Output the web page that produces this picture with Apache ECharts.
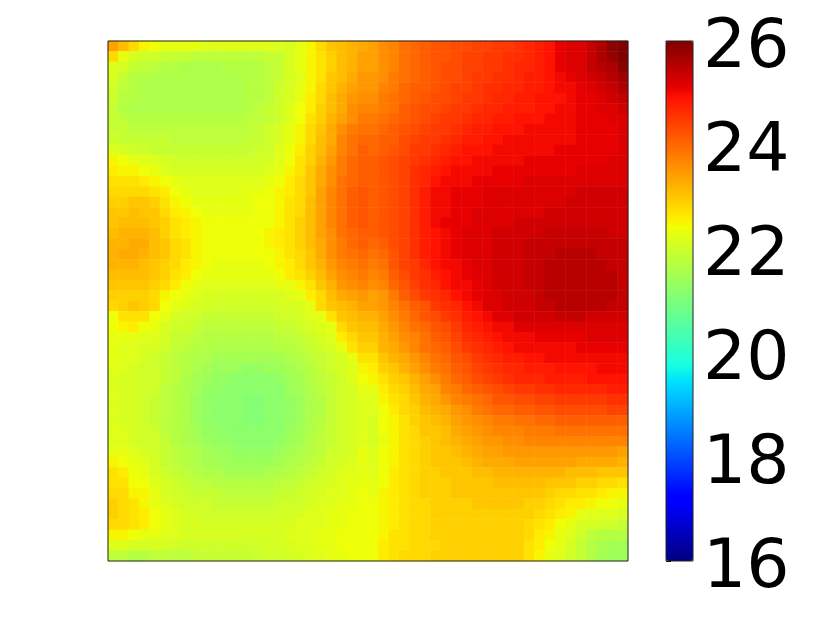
<!DOCTYPE html>
<html lang="en">
<head>
<meta charset="UTF-8" />
<title>Heatmap</title>
<style type="text/css">
  html,body{margin:0;padding:0;background:#fff;}
  #chart{width:822px;height:617px;}
</style>
</head>
<body>
<div id="chart"></div>
<script src="https://cdn.jsdelivr.net/npm/echarts@6/dist/echarts.min.js"></script>
<script type="text/javascript">
// values, one list per row, top row first
var gridValues = [
[23.4,23.1,22.8,22.5,22.4,22.3,22.3,22.3,22.3,22.2,22.2,22.2,22.2,22.2,22.2,22.2,22.2,22.1,22.3,22.5,22.8,23.0,23.1,23.2,23.3,23.4,23.6,23.7,23.9,24.0,24.1,24.2,24.2,24.3,24.3,24.4,24.4,24.5,24.5,24.6,24.7,24.8,24.9,25.1,25.2,25.2,25.4,25.6,25.9,26.0],
[22.8,22.3,22.1,22.0,22.0,21.9,21.9,21.9,21.8,21.8,21.8,21.8,21.8,21.8,21.8,21.9,21.9,22.1,22.3,22.5,22.7,22.9,23.1,23.2,23.4,23.4,23.6,23.7,23.9,24.0,24.1,24.2,24.2,24.3,24.4,24.4,24.5,24.5,24.6,24.6,24.7,24.8,24.9,25.1,25.2,25.2,25.4,25.6,25.8,26.0],
[22.2,22.1,21.9,21.8,21.8,21.7,21.7,21.6,21.6,21.6,21.6,21.7,21.7,21.7,21.7,21.8,21.9,22.1,22.3,22.5,22.7,22.9,23.1,23.2,23.4,23.4,23.6,23.7,23.9,24.0,24.1,24.2,24.3,24.3,24.4,24.4,24.5,24.5,24.6,24.7,24.7,24.8,24.9,25.1,25.2,25.2,25.4,25.5,25.6,25.9],
[22.1,21.9,21.7,21.7,21.6,21.6,21.6,21.6,21.6,21.6,21.6,21.6,21.6,21.7,21.7,21.8,21.9,22.1,22.2,22.5,22.7,23.0,23.1,23.3,23.5,23.5,23.6,23.8,23.9,24.0,24.1,24.2,24.3,24.3,24.4,24.5,24.5,24.6,24.6,24.7,24.8,24.8,24.9,25.0,25.1,25.2,25.3,25.4,25.5,25.7],
[22.0,21.8,21.7,21.6,21.6,21.6,21.6,21.6,21.6,21.6,21.6,21.6,21.6,21.7,21.7,21.8,22.0,22.1,22.3,22.5,22.8,23.0,23.2,23.4,23.5,23.5,23.7,23.8,24.0,24.1,24.1,24.2,24.3,24.4,24.4,24.5,24.6,24.6,24.7,24.7,24.8,24.8,24.9,25.0,25.0,25.1,25.2,25.3,25.4,25.6],
[22.0,21.7,21.7,21.6,21.6,21.6,21.6,21.6,21.6,21.6,21.6,21.6,21.6,21.7,21.7,21.8,22.0,22.1,22.3,22.6,22.8,23.1,23.3,23.5,23.6,23.6,23.8,23.9,24.0,24.1,24.2,24.3,24.3,24.4,24.5,24.5,24.6,24.7,24.7,24.8,24.8,24.9,24.9,24.9,25.0,25.1,25.1,25.2,25.3,25.4],
[21.9,21.7,21.6,21.6,21.6,21.6,21.6,21.6,21.6,21.6,21.6,21.6,21.6,21.7,21.8,21.9,22.0,22.2,22.4,22.6,22.9,23.1,23.3,23.6,23.7,23.7,23.8,23.9,24.1,24.2,24.3,24.3,24.4,24.5,24.5,24.6,24.7,24.7,24.8,24.8,24.8,24.9,24.9,25.0,25.0,25.1,25.1,25.2,25.2,25.3],
[21.9,21.8,21.7,21.7,21.7,21.7,21.7,21.7,21.7,21.7,21.7,21.7,21.7,21.8,21.8,21.9,22.0,22.2,22.4,22.7,22.9,23.2,23.4,23.6,23.8,23.8,23.9,24.0,24.1,24.2,24.3,24.4,24.5,24.5,24.6,24.7,24.7,24.8,24.8,24.9,24.9,24.9,25.0,25.0,25.0,25.1,25.1,25.1,25.2,25.2],
[21.9,21.9,21.8,21.8,21.8,21.8,21.8,21.8,21.8,21.8,21.8,21.8,21.8,21.8,21.9,22.0,22.1,22.3,22.5,22.8,23.0,23.3,23.6,23.8,23.9,23.9,24.0,24.1,24.2,24.3,24.4,24.5,24.5,24.6,24.7,24.8,24.8,24.9,24.9,24.9,25.0,25.0,25.0,25.0,25.0,25.1,25.1,25.1,25.1,25.2],
[22.0,21.9,21.9,21.9,21.9,21.9,21.8,21.8,21.8,21.8,21.8,21.8,21.8,21.9,21.9,22.0,22.1,22.3,22.5,22.8,23.1,23.3,23.7,23.9,24.0,24.0,24.1,24.1,24.3,24.4,24.5,24.5,24.6,24.7,24.8,24.8,24.9,24.9,25.0,25.0,25.0,25.0,25.0,25.0,25.0,25.1,25.1,25.1,25.1,25.2],
[22.2,22.1,22.0,22.0,21.9,21.9,21.9,21.9,21.9,21.9,21.9,21.9,21.9,21.9,22.0,22.0,22.2,22.4,22.6,22.9,23.1,23.4,23.7,23.9,24.1,24.0,24.1,24.2,24.3,24.5,24.5,24.6,24.7,24.8,24.9,24.9,24.9,25.0,25.0,25.0,25.0,25.0,25.0,25.1,25.1,25.1,25.1,25.1,25.1,25.2],
[22.5,22.4,22.3,22.2,22.2,22.1,22.0,22.0,22.0,22.0,22.0,22.0,22.0,22.0,22.0,22.1,22.2,22.4,22.7,22.9,23.2,23.5,23.8,24.0,24.1,24.1,24.2,24.3,24.4,24.5,24.6,24.7,24.8,24.9,24.9,25.0,25.0,25.0,25.0,25.0,25.1,25.1,25.1,25.1,25.1,25.1,25.1,25.1,25.2,25.2],
[22.6,22.5,22.5,22.4,22.3,22.2,22.1,22.1,22.1,22.1,22.1,22.1,22.1,22.1,22.1,22.2,22.3,22.5,22.7,23.0,23.3,23.6,23.8,24.0,24.1,24.1,24.2,24.3,24.4,24.6,24.7,24.8,24.9,25.0,25.0,25.0,25.0,25.1,25.1,25.1,25.1,25.1,25.1,25.1,25.1,25.2,25.2,25.2,25.2,25.2],
[22.7,22.7,22.7,22.6,22.5,22.4,22.3,22.2,22.2,22.2,22.2,22.2,22.2,22.2,22.2,22.3,22.4,22.6,22.8,23.0,23.3,23.6,23.9,24.0,24.1,24.1,24.2,24.3,24.4,24.6,24.7,24.9,25.0,25.0,25.0,25.1,25.1,25.1,25.1,25.1,25.2,25.2,25.2,25.2,25.2,25.2,25.2,25.2,25.2,25.2],
[22.8,22.8,22.8,22.8,22.7,22.6,22.4,22.3,22.2,22.2,22.2,22.2,22.2,22.3,22.3,22.4,22.5,22.6,22.8,23.0,23.4,23.7,23.9,24.1,24.2,24.1,24.2,24.3,24.4,24.6,24.8,25.0,25.0,25.1,25.1,25.1,25.2,25.2,25.2,25.2,25.2,25.2,25.2,25.2,25.2,25.3,25.3,25.3,25.3,25.3],
[22.9,22.9,23.0,23.0,22.9,22.7,22.5,22.4,22.3,22.3,22.3,22.3,22.3,22.3,22.4,22.4,22.5,22.7,22.8,23.1,23.4,23.7,23.9,24.1,24.2,24.1,24.2,24.3,24.4,24.6,24.8,25.0,25.0,25.1,25.1,25.1,25.2,25.2,25.2,25.2,25.2,25.2,25.2,25.2,25.3,25.3,25.3,25.3,25.3,25.3],
[23.0,23.0,23.1,23.0,23.0,22.8,22.6,22.5,22.4,22.3,22.3,22.3,22.3,22.3,22.4,22.4,22.5,22.7,22.8,23.1,23.4,23.7,23.9,24.1,24.2,24.1,24.2,24.3,24.4,24.6,24.8,25.0,25.0,25.1,25.1,25.2,25.2,25.2,25.2,25.2,25.2,25.2,25.3,25.3,25.3,25.3,25.3,25.3,25.3,25.3],
[23.0,23.1,23.1,23.1,23.0,22.9,22.7,22.6,22.5,22.4,22.4,22.4,22.4,22.4,22.4,22.4,22.5,22.7,22.9,23.1,23.4,23.7,23.9,24.1,24.2,24.1,24.2,24.3,24.4,24.6,24.8,25.0,25.1,25.1,25.1,25.2,25.2,25.2,25.2,25.3,25.3,25.3,25.3,25.3,25.3,25.3,25.3,25.3,25.3,25.3],
[23.1,23.2,23.2,23.2,23.1,22.9,22.7,22.6,22.5,22.4,22.4,22.4,22.4,22.4,22.4,22.5,22.6,22.7,22.9,23.1,23.4,23.6,23.9,24.0,24.1,24.1,24.2,24.3,24.4,24.6,24.8,24.9,25.0,25.1,25.2,25.2,25.2,25.3,25.3,25.3,25.3,25.3,25.4,25.4,25.4,25.4,25.4,25.4,25.3,25.3],
[23.2,23.2,23.3,23.3,23.1,23.0,22.8,22.7,22.5,22.4,22.4,22.4,22.4,22.4,22.4,22.5,22.6,22.7,22.9,23.1,23.3,23.6,23.8,24.0,24.1,24.0,24.1,24.3,24.4,24.6,24.8,24.9,25.0,25.1,25.2,25.2,25.2,25.3,25.3,25.3,25.4,25.4,25.4,25.4,25.4,25.4,25.4,25.4,25.4,25.4],
[23.2,23.3,23.3,23.2,23.1,23.0,22.8,22.7,22.5,22.4,22.4,22.4,22.4,22.4,22.4,22.4,22.5,22.7,22.8,23.0,23.3,23.6,23.8,23.9,24.0,23.9,24.0,24.2,24.4,24.6,24.8,24.9,25.0,25.1,25.2,25.2,25.2,25.3,25.3,25.3,25.4,25.4,25.4,25.5,25.5,25.5,25.5,25.4,25.4,25.4],
[23.2,23.2,23.2,23.1,23.0,22.9,22.8,22.6,22.5,22.4,22.3,22.3,22.3,22.3,22.3,22.4,22.5,22.6,22.8,23.0,23.2,23.5,23.7,23.8,23.9,23.8,23.9,24.2,24.4,24.5,24.7,24.9,25.0,25.0,25.1,25.2,25.2,25.3,25.3,25.3,25.4,25.4,25.5,25.5,25.5,25.5,25.5,25.5,25.4,25.4],
[23.1,23.1,23.1,23.1,23.0,22.9,22.7,22.6,22.4,22.3,22.3,22.3,22.3,22.3,22.3,22.3,22.4,22.6,22.7,22.9,23.1,23.4,23.6,23.7,23.8,23.7,23.8,24.1,24.3,24.5,24.6,24.8,24.9,25.0,25.1,25.2,25.2,25.3,25.3,25.3,25.4,25.4,25.5,25.5,25.5,25.5,25.5,25.5,25.5,25.4],
[23.0,23.0,23.0,23.0,22.9,22.8,22.6,22.4,22.3,22.2,22.2,22.2,22.2,22.2,22.2,22.2,22.3,22.3,22.5,22.7,23.0,23.2,23.5,23.6,23.7,23.6,23.7,24.0,24.2,24.4,24.6,24.7,24.9,25.0,25.0,25.1,25.2,25.3,25.3,25.3,25.4,25.4,25.5,25.5,25.5,25.5,25.5,25.5,25.5,25.4],
[22.9,22.9,22.9,22.9,22.8,22.5,22.4,22.3,22.2,22.1,22.1,22.1,22.1,22.1,22.1,22.1,22.1,22.2,22.3,22.6,22.8,23.1,23.3,23.4,23.5,23.4,23.5,23.8,24.1,24.3,24.5,24.6,24.7,24.9,25.0,25.1,25.2,25.2,25.3,25.3,25.3,25.4,25.5,25.5,25.5,25.5,25.5,25.5,25.5,25.4],
[22.8,22.9,23.0,22.9,22.8,22.4,22.3,22.2,22.1,22.1,22.0,22.0,22.0,22.0,22.0,22.0,22.1,22.1,22.1,22.3,22.8,23.0,23.1,23.2,23.4,23.4,23.5,23.7,23.9,24.1,24.2,24.5,24.6,24.7,24.9,25.0,25.2,25.2,25.3,25.3,25.3,25.4,25.4,25.5,25.5,25.5,25.5,25.5,25.4,25.4],
[22.4,22.7,22.7,22.7,22.4,22.3,22.1,22.0,22.0,21.9,21.9,21.9,21.9,21.9,21.9,21.9,22.0,22.0,22.1,22.2,22.3,22.7,23.0,23.1,23.2,23.2,23.4,23.6,23.8,24.0,24.2,24.3,24.5,24.6,24.8,24.9,25.0,25.2,25.2,25.3,25.3,25.3,25.3,25.4,25.4,25.4,25.3,25.3,25.3,25.3],
[22.4,22.5,22.6,22.4,22.3,22.1,22.0,22.0,21.9,21.8,21.8,21.8,21.8,21.8,21.8,21.8,21.9,21.9,22.0,22.1,22.2,22.3,22.8,23.0,23.1,23.1,23.3,23.5,23.7,23.9,24.0,24.2,24.3,24.5,24.7,24.8,24.9,25.0,25.0,25.2,25.2,25.2,25.2,25.2,25.2,25.2,25.2,25.2,25.2,25.2],
[22.3,22.3,22.3,22.2,22.2,22.1,21.9,21.9,21.8,21.7,21.7,21.7,21.7,21.7,21.7,21.7,21.8,21.8,21.9,22.0,22.1,22.2,22.6,22.8,23.0,23.0,23.2,23.4,23.6,23.7,23.9,24.1,24.2,24.4,24.6,24.7,24.8,24.9,25.0,25.0,25.0,25.1,25.1,25.1,25.1,25.1,25.2,25.2,25.2,25.2],
[22.3,22.2,22.2,22.1,22.1,22.0,21.9,21.8,21.7,21.7,21.6,21.6,21.6,21.6,21.6,21.6,21.7,21.7,21.8,21.9,22.0,22.1,22.3,22.7,22.9,22.9,23.2,23.3,23.5,23.7,23.9,24.0,24.1,24.3,24.5,24.6,24.7,24.8,24.9,25.0,25.0,25.0,25.0,25.0,25.0,25.1,25.1,25.1,25.1,25.1],
[22.3,22.2,22.2,22.1,22.0,21.9,21.8,21.7,21.6,21.6,21.5,21.5,21.5,21.5,21.5,21.5,21.5,21.6,21.7,21.8,21.9,22.0,22.1,22.3,22.7,22.7,23.0,23.2,23.3,23.5,23.7,23.9,24.0,24.2,24.3,24.5,24.6,24.7,24.8,24.8,24.9,24.9,25.0,25.0,25.0,25.0,25.0,25.0,25.0,25.0],
[22.2,22.2,22.1,22.0,22.0,21.9,21.8,21.7,21.6,21.5,21.4,21.4,21.4,21.3,21.3,21.4,21.4,21.5,21.6,21.7,21.9,22.0,22.1,22.2,22.5,22.6,22.9,23.0,23.2,23.4,23.6,23.8,23.9,24.1,24.2,24.4,24.5,24.6,24.7,24.7,24.8,24.8,24.8,24.9,24.9,24.9,24.9,25.0,25.0,25.0],
[22.2,22.1,22.1,22.0,22.0,21.9,21.8,21.6,21.5,21.4,21.3,21.3,21.2,21.2,21.2,21.2,21.3,21.4,21.5,21.7,21.8,21.9,22.0,22.2,22.4,22.5,22.7,22.9,23.0,23.2,23.4,23.6,23.8,24.0,24.1,24.3,24.4,24.5,24.6,24.7,24.7,24.7,24.8,24.8,24.8,24.8,24.9,24.9,24.9,24.9],
[22.2,22.1,22.1,22.0,22.0,21.8,21.7,21.6,21.5,21.3,21.3,21.2,21.2,21.2,21.2,21.2,21.2,21.4,21.5,21.6,21.8,21.9,22.0,22.1,22.3,22.3,22.6,22.8,22.9,23.1,23.3,23.4,23.7,23.8,24.0,24.1,24.2,24.3,24.4,24.5,24.5,24.6,24.6,24.7,24.7,24.7,24.7,24.7,24.8,24.8],
[22.2,22.1,22.1,22.0,21.9,21.8,21.7,21.6,21.4,21.3,21.2,21.2,21.2,21.1,21.1,21.2,21.2,21.3,21.4,21.6,21.7,21.9,22.0,22.1,22.2,22.2,22.5,22.7,22.8,23.0,23.2,23.3,23.5,23.7,23.8,23.9,24.0,24.2,24.2,24.3,24.3,24.4,24.4,24.5,24.5,24.5,24.5,24.5,24.6,24.6],
[22.2,22.1,22.1,22.0,21.9,21.8,21.7,21.6,21.4,21.3,21.2,21.2,21.2,21.1,21.1,21.2,21.2,21.3,21.4,21.6,21.7,21.9,22.0,22.1,22.2,22.2,22.4,22.6,22.8,22.9,23.1,23.2,23.3,23.5,23.6,23.8,23.9,24.0,24.0,24.1,24.1,24.2,24.2,24.3,24.3,24.3,24.3,24.3,24.4,24.4],
[22.2,22.1,22.1,22.0,21.9,21.8,21.7,21.6,21.4,21.3,21.2,21.2,21.2,21.1,21.1,21.2,21.2,21.3,21.4,21.6,21.7,21.9,22.0,22.1,22.2,22.1,22.4,22.5,22.7,22.9,23.0,23.1,23.2,23.4,23.5,23.6,23.7,23.8,23.8,23.9,23.9,24.0,24.0,24.1,24.1,24.1,24.1,24.1,24.1,24.1],
[22.2,22.2,22.1,22.0,22.0,21.8,21.7,21.6,21.5,21.3,21.3,21.2,21.2,21.2,21.2,21.2,21.2,21.4,21.5,21.6,21.8,21.9,22.0,22.1,22.2,22.1,22.4,22.5,22.7,22.8,23.0,23.0,23.1,23.3,23.4,23.5,23.6,23.7,23.7,23.7,23.8,23.8,23.8,23.9,23.9,23.9,23.9,23.9,23.9,23.9],
[22.2,22.2,22.1,22.0,22.0,21.9,21.7,21.6,21.5,21.4,21.3,21.3,21.2,21.2,21.2,21.2,21.3,21.4,21.5,21.7,21.8,21.9,22.0,22.1,22.2,22.1,22.3,22.5,22.7,22.8,22.9,23.0,23.1,23.2,23.3,23.4,23.5,23.5,23.6,23.6,23.7,23.7,23.7,23.7,23.7,23.7,23.7,23.7,23.7,23.7],
[22.3,22.3,22.2,22.1,22.0,21.9,21.8,21.7,21.6,21.5,21.4,21.4,21.3,21.3,21.3,21.3,21.4,21.5,21.6,21.7,21.8,22.0,22.0,22.1,22.3,22.2,22.4,22.5,22.7,22.8,22.9,23.0,23.0,23.1,23.2,23.3,23.4,23.4,23.5,23.5,23.5,23.5,23.5,23.5,23.5,23.5,23.5,23.5,23.5,23.4],
[22.5,22.4,22.3,22.2,22.1,21.9,21.8,21.7,21.6,21.5,21.5,21.4,21.4,21.4,21.4,21.4,21.5,21.6,21.7,21.8,21.9,22.0,22.1,22.2,22.3,22.2,22.4,22.5,22.7,22.8,22.9,23.0,23.0,23.0,23.1,23.2,23.3,23.3,23.3,23.4,23.4,23.4,23.4,23.4,23.4,23.3,23.3,23.3,23.3,23.2],
[22.7,22.6,22.4,22.3,22.1,22.0,21.9,21.8,21.7,21.6,21.6,21.5,21.5,21.5,21.5,21.6,21.6,21.7,21.8,21.9,22.0,22.1,22.2,22.2,22.3,22.2,22.4,22.6,22.7,22.8,22.9,22.9,23.0,23.0,23.0,23.1,23.1,23.2,23.2,23.2,23.2,23.2,23.2,23.2,23.1,23.1,23.1,23.0,23.0,23.0],
[22.7,22.7,22.4,22.4,22.2,22.1,22.0,21.9,21.8,21.8,21.7,21.7,21.7,21.7,21.7,21.7,21.8,21.8,21.9,22.0,22.1,22.1,22.2,22.3,22.3,22.3,22.4,22.6,22.7,22.8,22.9,22.9,22.9,23.0,23.0,23.0,23.0,23.1,23.1,23.1,23.1,23.1,23.0,23.0,23.0,22.9,22.9,22.8,22.8,22.7],
[22.8,22.8,22.5,22.5,22.3,22.1,22.0,22.0,21.9,21.9,21.9,21.8,21.8,21.8,21.8,21.8,21.9,21.9,22.0,22.1,22.1,22.2,22.2,22.3,22.4,22.3,22.5,22.6,22.7,22.8,22.9,22.9,22.9,23.0,23.0,23.0,23.0,23.0,23.0,23.0,23.0,23.0,22.9,22.8,22.8,22.7,22.7,22.6,22.5,22.5],
[22.9,22.8,22.7,22.5,22.3,22.2,22.1,22.0,22.0,22.0,21.9,21.9,21.9,21.9,21.9,21.9,22.0,22.0,22.0,22.1,22.2,22.2,22.3,22.3,22.4,22.4,22.5,22.6,22.7,22.8,22.8,22.9,22.9,22.9,22.9,23.0,23.0,23.0,23.0,23.0,22.9,22.9,22.8,22.7,22.6,22.6,22.5,22.4,22.4,22.3],
[22.9,22.8,22.7,22.6,22.4,22.3,22.2,22.1,22.1,22.0,22.0,22.0,22.0,22.0,22.0,22.0,22.0,22.1,22.1,22.2,22.2,22.3,22.3,22.4,22.4,22.4,22.5,22.6,22.7,22.8,22.8,22.9,22.9,22.9,22.9,22.9,22.9,22.9,22.9,22.9,22.9,22.8,22.7,22.6,22.5,22.3,22.2,22.2,22.2,22.1],
[22.8,22.8,22.7,22.6,22.4,22.3,22.2,22.1,22.1,22.1,22.1,22.1,22.1,22.1,22.1,22.1,22.1,22.1,22.2,22.2,22.2,22.3,22.3,22.4,22.4,22.4,22.5,22.6,22.7,22.8,22.8,22.9,22.9,22.9,22.9,22.9,22.9,22.9,22.9,22.9,22.8,22.7,22.6,22.4,22.3,22.1,22.1,22.0,22.0,21.9],
[22.5,22.5,22.4,22.3,22.3,22.2,22.2,22.1,22.1,22.1,22.1,22.1,22.1,22.1,22.1,22.1,22.1,22.2,22.2,22.2,22.3,22.3,22.4,22.4,22.4,22.4,22.5,22.7,22.7,22.8,22.8,22.9,22.9,22.9,22.9,22.9,22.9,22.9,22.9,22.9,22.8,22.6,22.5,22.3,22.2,22.0,21.8,21.7,21.7,21.7],
[22.2,22.2,22.1,22.1,22.1,22.1,22.0,22.0,22.0,22.0,22.0,22.0,22.0,22.0,22.0,22.1,22.1,22.1,22.2,22.2,22.3,22.3,22.4,22.4,22.4,22.4,22.6,22.7,22.7,22.8,22.8,22.8,22.9,22.9,22.9,22.9,22.9,22.9,22.9,22.9,22.7,22.6,22.4,22.3,22.1,21.9,21.7,21.6,21.5,21.5],
[21.8,21.8,21.7,21.7,21.8,21.8,21.8,21.8,21.9,21.9,21.9,21.9,21.9,21.9,22.0,22.0,22.0,22.1,22.1,22.2,22.2,22.3,22.3,22.4,22.4,22.4,22.6,22.7,22.8,22.8,22.8,22.9,22.9,22.9,22.9,22.9,22.9,22.9,22.9,22.9,22.7,22.5,22.3,22.2,22.0,21.9,21.7,21.5,21.4,21.4]
];
var colorbarMin = 16;
var colorbarMax = 26;
var colorbarStep = 2;

var cellIds = [];
for (var i = 0; i < gridValues.length; i++) cellIds.push(i);

// heatmap triples for echarts
var heatData = [];
gridValues.forEach(function (row, y) {
    row.forEach(function (v, x) {
        heatData.push([x, y, v]);
    });
});

// jet colour ramp
function seg(t, pts) {
    for (var i = 1; i < pts.length; i++) {
        if (t <= pts[i][0]) {
            var a = pts[i - 1], b = pts[i];
            return a[1] + (b[1] - a[1]) * (t - a[0]) / (b[0] - a[0]);
        }
    }
    return pts[pts.length - 1][1];
}
var jet = [];
for (var k = 0; k <= 100; k++) {
    var t = k / 100;
    var r = seg(t, [[0, 0], [0.35, 0], [0.66, 1], [0.89, 1], [1, 0.5]]);
    var g = seg(t, [[0, 0], [0.125, 0], [0.375, 1], [0.64, 1], [0.91, 0], [1, 0]]);
    var b = seg(t, [[0, 0.5], [0.11, 1], [0.34, 1], [0.65, 0], [1, 0]]);
    jet.push('rgb(' + Math.round(r * 255) + ',' + Math.round(g * 255) + ',' + Math.round(b * 255) + ')');
}

var chart = echarts.init(document.getElementById('chart'), null, { renderer: 'canvas' });
chart.setOption({
    animation: false,
    backgroundColor: '#fff',
    grid: [
        { left: 108, top: 41, width: 520, height: 520, show: true, z: 5, backgroundColor: 'transparent', borderColor: '#222', borderWidth: 1 },
        { left: 666, top: 41, width: 27, height: 520, show: true, z: 5, backgroundColor: 'transparent', borderColor: '#222', borderWidth: 1 }
    ],
    xAxis: [
        { type: 'category', gridIndex: 0, data: cellIds, show: false },
        { type: 'value', gridIndex: 1, min: 0, max: 1, show: false }
    ],
    yAxis: [
        { type: 'category', gridIndex: 0, data: cellIds, inverse: true, show: false },
        {
            type: 'value', gridIndex: 1, position: 'right',
            min: colorbarMin, max: colorbarMax, interval: colorbarStep,
            axisLine: { show: false },
            splitLine: { show: false },
            axisTick: { show: true, length: 5, lineStyle: { color: '#000', width: 1 } },
            axisLabel: { color: '#000', fontFamily: 'DejaVu Sans', fontSize: 68, margin: 10, verticalAlign: 'top', lineHeight: 16 }
        }
    ],
    visualMap: {
        type: 'continuous',
        min: colorbarMin,
        max: colorbarMax,
        seriesIndex: 0,
        calculable: false,
        realtime: false,
        left: 666,
        top: 41,
        itemWidth: 27,
        itemHeight: 520,
        text: ['', ''],
        showLabel: false,
        padding: 0,
        z: 1,
        inRange: { color: jet }
    },
    series: [{
        type: 'heatmap',
        xAxisIndex: 0,
        yAxisIndex: 0,
        data: heatData,
        progressive: 0,
        emphasis: { disabled: true }
    }]
});
</script>
</body>
</html>
